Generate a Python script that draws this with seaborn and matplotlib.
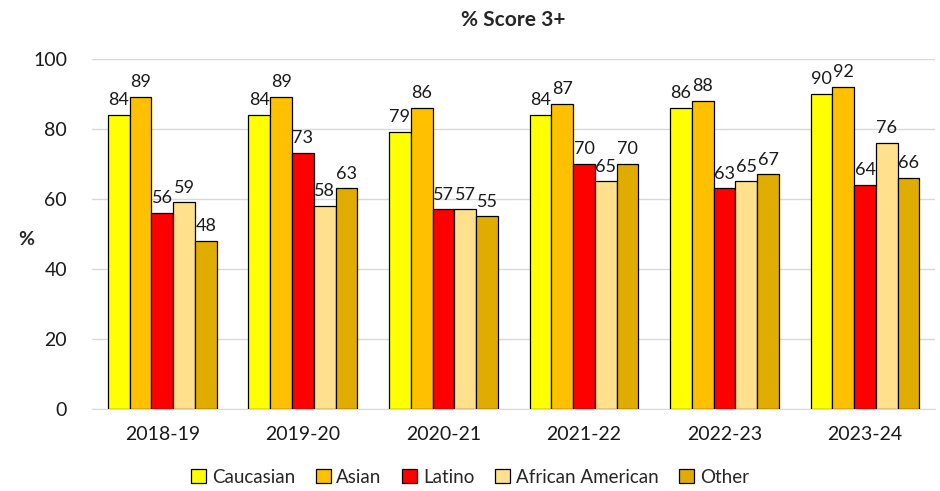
import pandas as pd
import numpy as np
import matplotlib.pyplot as plt
import seaborn as sns

# chart data
years = ["2018-19", "2019-20", "2020-21", "2021-22", "2022-23", "2023-24"]
groups = ["Caucasian", "Asian", "Latino", "African American", "Other"]
caucasian = [84, 84, 79, 84, 86, 90]
asian = [89, 89, 86, 87, 88, 92]
latino = [56, 73, 57, 70, 63, 64]
african_american = [59, 58, 57, 65, 65, 76]
other = [48, 63, 55, 70, 67, 66]

colors = ["#FFFF00", "#FFC000", "#FF0000", "#FFE08C", "#E0AC00"]

df = pd.DataFrame({
    "year": years * 5,
    "group": np.repeat(groups, len(years)),
    "pct": caucasian + asian + latino + african_american + other,
})

sns.set_style("white")
plt.rcParams["font.family"] = ["Lato", "DejaVu Sans"]

fig = plt.figure(figsize=(9.4, 4.91), dpi=100)
ax = fig.add_axes([0.098, 0.167, 0.897, 0.713])

sns.barplot(data=df, x="year", y="pct", hue="group", hue_order=groups,
            palette=colors, width=0.775, edgecolor="black", linewidth=0.9,
            saturation=1, ax=ax, zorder=3)

for c in ax.containers:
    ax.bar_label(c, fmt="%.0f", padding=5, fontsize=13, color="#1a1a1a")

ax.set_ylim(0, 100)
ax.set_xlim(-0.5, len(years) - 0.5)
ax.set_yticks(range(0, 101, 20))
ax.grid(axis="y", color="#d9d9d9", linewidth=1, zorder=0)
ax.tick_params(axis="y", length=8, color="#d9d9d9", labelsize=14, pad=10,
               labelcolor="#1a1a1a")
ax.tick_params(axis="x", length=0, labelsize=14, pad=12, labelcolor="#1a1a1a")
for s in ["top", "right", "left"]:
    ax.spines[s].set_visible(False)
ax.spines["bottom"].set_color("#d9d9d9")

ax.set_xlabel("")
ax.set_ylabel("%", rotation=0, fontsize=14, fontweight="bold", va="center")
ax.yaxis.set_label_coords(-0.078, 0.485)
ax.set_title("% Score 3+", fontsize=15, fontweight="bold", pad=24)

# legend centred on the figure, not the axes
handles, labels = ax.get_legend_handles_labels()
ax.get_legend().remove()
fig.legend(handles, labels, loc="center", bbox_to_anchor=(0.5, 0.028),
           ncol=5, frameon=False, fontsize=13.5, handlelength=0.8, handleheight=0.8,
           handletextpad=0.3, columnspacing=1.1)

plt.savefig("out.png", dpi=100)
